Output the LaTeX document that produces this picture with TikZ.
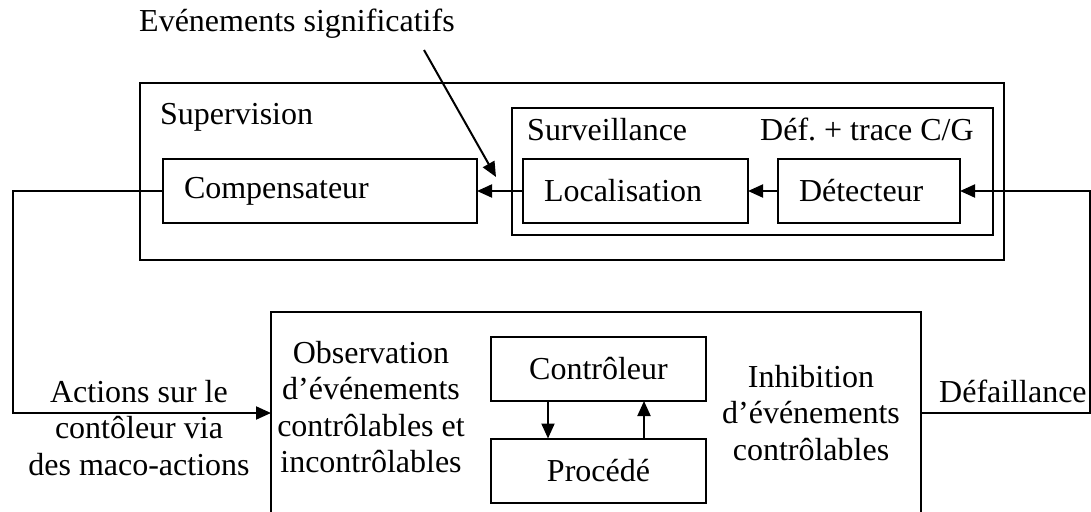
\documentclass[tikz,border=0pt]{standalone}
\usepackage{fontspec}
\setmainfont{Liberation Serif}
\usetikzlibrary{arrows.meta}
\frenchspacing

\begin{document}
\begin{tikzpicture}[x=1pt,y=-1pt,
  font=\fontsize{32}{36.5}\selectfont,
  blk/.style={draw,line width=2pt,inner sep=0pt,outer sep=0pt},
  lblk/.style={blk,inner xsep=21pt,align=left,minimum height=64pt},
  cblk/.style={blk,minimum width=215pt,minimum height=64pt},
  arr/.style={line width=2pt,-{Triangle[length=15pt,width=13pt]}},
  txt/.style={inner sep=0pt,align=center}]
\useasboundingbox (0,0) rectangle (1091,511);

% Frames
\node[blk,minimum width=864pt,minimum height=177pt,anchor=north west] (sup) at (140,83) {};
\node[blk,minimum width=481pt,minimum height=127pt,anchor=north west] (surv) at (512,108) {};
\node[blk,minimum width=650pt,minimum height=260pt,anchor=north west] (sys) at (271,312) {};

% Blocks
\node[lblk,text width=272pt,anchor=west] (comp) at (163,191) {Compensateur};
\node[lblk,text width=183pt,anchor=west] (loc) at (523,191) {Localisation};
\node[lblk,text width=140pt,anchor=west] (det) at (778,191) {Détecteur};
\node[cblk] (ctrl) at (598.5,369) {Contrôleur};
\node[cblk] (proc) at (598.5,470.5) {Procédé};

% Labels
\node[txt,anchor=base west] (evl) at (139,32) {Evénements significatifs};
\node[txt,anchor=base west] (supl) at (160,124) {Supervision};
\node[txt,anchor=base west] (survl) at (527,140) {Surveillance};
\node[txt,anchor=base west] (defl) at (760,140) {Déf. + trace C/G};
\node[txt,anchor=north] (act) at (139,380) {Actions sur le\\contôleur via\\des maco-actions};
\node[txt,anchor=north] (obs) at (371,341) {Observation\\d’événements\\contrôlables et\\incontrôlables};
\node[txt,anchor=north] (inh) at (811,365) {Inhibition\\d’événements\\contrôlables};
\node[txt,anchor=base west] (fail) at (939,402) {Défaillance};

% Connections
\coordinate (lft) at (13,413);
\coordinate (rgt) at (1089.5,413);
\coordinate (evs) at (424,50);
\coordinate (evt) at (496,177);
\draw[arr] (loc.west) -- (comp.east);
\draw[arr] (det.west) -- (loc.east);
\draw[arr] (comp.west) -| (lft) -- (lft -| sys.west);
\draw[arr] (rgt -| sys.east) -- (rgt) |- (det.east);
\draw[arr] (evs) -- (evt);
\draw[arr] ([xshift=-50.5pt]ctrl.south) -- ([xshift=-50.5pt]proc.north);
\draw[arr] ([xshift=45.5pt]proc.north) -- ([xshift=45.5pt]ctrl.south);
\end{tikzpicture}
\end{document}
